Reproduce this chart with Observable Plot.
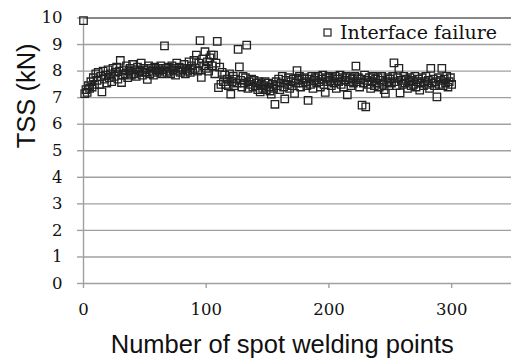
<!DOCTYPE html>
<html>
<head>
<meta charset="utf-8">
<script src="https://cdn.jsdelivr.net/npm/d3@7"></script>
<script src="https://cdn.jsdelivr.net/npm/@observablehq/plot@0.6"></script>
<style>
  html, body { margin: 0; padding: 0; background: #fff; }
  #wrap { position: relative; width: 511px; height: 361px; }
  #legend { position: absolute; left: 322px; top: 23.2px; font: 19px "DejaVu Serif", serif; line-height: 1; color: #111; white-space: nowrap; }
  #legend svg { position: absolute; left: 0; top: 3.6px; }
  #legend span { position: absolute; left: 18px; top: 0; }
</style>
</head>
<body>
<div id="wrap"></div>
<script>
const xLabel = "Number of spot welding points";
const yLabel = "TSS (kN)";
const legendLabel = "Interface failure";
const xTicks = [0, 100, 200, 300];
const yTicks = [0, 1, 2, 3, 4, 5, 6, 7, 8, 9, 10];
const xDomain = [0, 350];
const yDomain = [0, 10];

// TSS values, one per spot welding point (index = point number 0..300)
const tss = [
  9.9,
  7.15, 7.3, 7.2, 7.45, 7.35, 7.6, 7.4, 7.75, 7.5, 7.9,
  7.65, 7.95, 7.5, 7.8, 7.22, 8.0, 7.7, 7.85, 7.55, 8.05,
  7.75, 7.9, 7.6, 8.1, 7.8, 7.95, 8.15, 7.7, 8.0, 8.4,
  7.57, 7.85, 8.05, 7.9, 8.2, 7.75, 8.0, 8.1, 7.85, 8.25,
  7.9, 8.05, 7.8, 8.15, 7.95, 8.0, 8.3, 7.85, 8.1, 7.95,
  8.05, 7.69, 8.2, 7.9, 8.1, 8.0, 7.85, 8.15, 8.05, 7.95,
  8.1, 8.0, 8.2, 7.9, 8.05, 8.95, 8.1, 7.95, 8.15, 8.0,
  7.9, 8.2, 8.05, 8.1, 7.85, 8.3, 8.0, 8.15, 7.95, 8.1,
  8.05, 8.25, 7.9, 8.1, 8.0, 8.35, 7.95, 8.2, 8.05, 8.4,
  8.1, 8.6, 8.0, 8.3, 9.15, 7.76, 8.45, 8.2, 8.73, 8.1,
  8.35, 8.0, 8.5, 8.6, 8.2, 8.6, 7.9, 8.3, 9.12, 7.38,
  8.15, 7.5, 7.95, 7.6, 7.85, 7.5, 7.7, 7.45, 7.9, 7.13,
  7.6, 7.8, 7.45, 7.7, 7.55, 8.82, 8.16, 7.65, 7.4, 7.8,
  7.55, 7.75, 8.98, 7.35, 7.6, 7.5, 7.7, 7.4, 7.65, 7.45,
  7.55, 7.3, 7.6, 7.22, 7.5, 7.35, 7.45, 7.6, 7.3, 7.55,
  7.4, 7.25, 7.13, 7.5, 7.35, 6.75, 7.6, 7.45, 7.7, 7.3,
  7.55, 7.8, 7.4, 6.95, 7.65, 7.5, 7.75, 7.35, 7.6, 7.45,
  7.7, 7.16, 7.55, 8.02, 7.65, 7.8, 7.4, 7.7, 7.55, 7.75,
  7.6, 7.45, 6.9, 7.7, 7.5, 7.8, 7.35, 7.65, 7.75, 7.55,
  7.8, 7.6, 7.4, 7.7, 7.85, 7.5, 7.2, 7.75, 7.6, 7.8,
  7.65, 7.45, 7.75, 7.55, 7.8, 7.35, 7.7, 7.6, 7.85, 7.5,
  7.75, 7.4, 7.65, 7.8, 7.1, 7.6, 7.75, 7.45, 7.7, 7.55,
  7.8, 8.19, 7.6, 7.75, 7.4, 7.7, 6.72, 7.55, 7.85, 6.65,
  7.65, 7.5, 7.75, 7.35, 7.6, 7.8, 7.45, 7.7, 7.55, 7.75,
  7.4, 7.65, 7.8, 7.5, 7.3, 7.16, 7.6, 7.75, 7.45, 7.7,
  7.55, 7.8, 8.31, 7.6, 7.45, 7.75, 8.1, 7.18, 7.65, 7.5,
  7.8, 7.55, 7.7, 7.35, 7.6, 7.75, 7.45, 7.65, 7.5, 7.8,
  7.4, 7.6, 7.7, 7.28, 7.55, 7.75, 7.45, 7.6, 7.8, 7.5,
  7.65, 7.35, 8.1, 7.55, 7.7, 7.45, 7.6, 7.03, 7.75, 7.5,
  7.65, 8.1, 7.45, 7.7, 7.55, 7.8, 7.4, 7.6, 7.75, 7.5
];

const data = tss.map((v, i) => ({point: i, tss: v}));

const serif = "'DejaVu Serif', serif";
const sans = "'Liberation Sans', Arial, sans-serif";
const gridColor = "#a0a0a0";

const chart = Plot.plot({
  width: 511,
  height: 361,
  marginLeft: 83,
  marginRight: -1.5,
  marginTop: 17.5,
  marginBottom: 78,
  style: {background: "#fff", overflow: "visible"},
  x: {domain: xDomain, label: null},
  y: {domain: yDomain, label: null},
  marks: [
    Plot.ruleY(yTicks.filter(d => d !== 10), {stroke: gridColor, strokeWidth: 1.4}),
    Plot.ruleY([10], {stroke: "#606060", strokeWidth: 1.6}),
    Plot.ruleX([0], {stroke: gridColor, strokeWidth: 1.4}),
    Plot.axisY({ticks: yTicks, tickSize: 6, tickPadding: 15, stroke: gridColor, strokeWidth: 1.4, fill: "#111",
      fontFamily: serif, fontSize: 16.5, fontVariant: "normal", label: null}),
    Plot.axisX({ticks: xTicks, tickSize: 5, tickPadding: 15, stroke: gridColor, strokeWidth: 1.4, fill: "#111",
      fontFamily: serif, fontSize: 16.5, fontVariant: "normal", label: null}),
    Plot.dot(data, {x: "point", y: "tss", symbol: "square", r: 4.2, stroke: "#222", strokeWidth: 1.3, fill: "none"}),
    Plot.text([xLabel], {frameAnchor: "bottom", text: d => d, dx: -16, dy: 61, lineAnchor: "middle",
      fontFamily: sans, fontSize: 25.5, fill: "#111"}),
    Plot.text([yLabel], {frameAnchor: "left", text: d => d, dx: -57, dy: -2.5, rotate: -90, lineAnchor: "middle",
      fontFamily: sans, fontSize: 25.5, fill: "#111"})
  ]
});

const wrap = document.getElementById("wrap");
wrap.appendChild(chart);

const legend = document.createElement("div");
legend.id = "legend";
legend.innerHTML = `<svg width="12" height="12"><rect x="2" y="2" width="7" height="7" fill="none" stroke="#222" stroke-width="1.2"/></svg><span></span>`;
legend.querySelector("span").textContent = legendLabel;
wrap.appendChild(legend);
</script>
</body>
</html>
